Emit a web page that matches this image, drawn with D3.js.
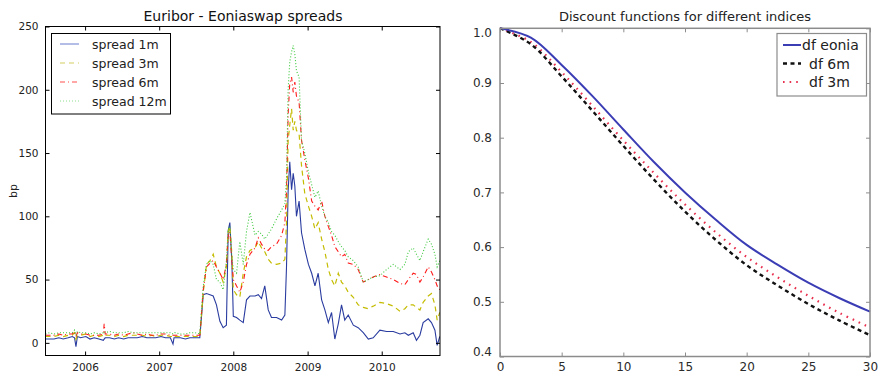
<!DOCTYPE html>
<html><head><meta charset="utf-8">
<script src="https://cdn.jsdelivr.net/npm/d3@7"></script>
<style>
html,body{margin:0;padding:0;background:#fff;}
svg{display:block;font-family:"DejaVu Sans",sans-serif;}
</style></head>
<body>
<svg id="chart" width="878" height="374"></svg>
<script>
// ---------- Left panel data: Euribor - Eoniaswap spreads (bp) ----------
const spreadDates = [
 "2005-06-20","2005-07-10","2005-08-01","2005-08-25","2005-09-15","2005-10-10","2005-10-30","2005-11-10","2005-11-17","2005-11-24",
 "2005-12-10","2006-01-05","2006-01-25","2006-02-15","2006-03-10","2006-04-01","2006-04-05","2006-04-10","2006-05-01","2006-05-25",
 "2006-06-15","2006-07-10","2006-08-01","2006-08-25","2006-09-15","2006-10-10","2006-11-01","2006-11-25","2006-12-15","2007-01-10",
 "2007-02-01","2007-02-25","2007-03-10","2007-03-15","2007-03-20","2007-04-15","2007-05-10","2007-06-01","2007-06-25",
 "2007-07-20","2007-08-06","2007-08-22","2007-09-08","2007-09-24","2007-10-10","2007-10-27","2007-11-12","2007-11-28","2007-12-07",
 "2007-12-15","2007-12-25","2008-01-01","2008-01-17","2008-02-02","2008-02-19","2008-03-06","2008-03-23","2008-04-17","2008-05-03",
 "2008-05-19","2008-06-04","2008-06-21","2008-07-07","2008-08-01","2008-08-26","2008-09-11","2008-09-19","2008-09-27","2008-10-05",
 "2008-10-14","2008-10-22","2008-10-30","2008-11-07","2008-11-20","2008-12-02","2008-12-18","2009-01-05","2009-01-21","2009-02-06",
 "2009-02-22","2009-03-11","2009-03-27","2009-04-13","2009-04-29","2009-05-15","2009-06-01","2009-06-17","2009-07-03","2009-07-20",
 "2009-08-14","2009-09-07","2009-10-02","2009-10-27","2009-11-20","2009-12-23","2010-01-25","2010-02-27","2010-04-01","2010-04-25",
 "2010-05-12","2010-06-05","2010-06-21","2010-07-08","2010-07-24","2010-08-18","2010-09-03","2010-09-20","2010-10-01","2010-10-14"
];
const spread1m = [
 3,3,3,4,3,4,5,4,-3,5, 4,5,3,4,3,2,3,4,4,3, 4,3,4,4,4,5,4,4,4,5, 4,4,-1,4,4,4,3,4,4,
 4,38,39,38,37,30,17,12,14,89, 95,63,21,20,18,16,34,37,37,38, 35,45,26,20,20,18,22,60,120,143,
 121,134,124,100,112,87,74,62,55,45, 55,34,26,16,24,3,15,30,18,22, 14,12,8,3,4,10,9,9,7,8,
 6,8,2,6,16,19,16,10,-2,5
];
const spread3m = [
 5,5,5,6,5,6,6,8,3,6, 6,7,5,6,5,6,7,6,6,5, 6,5,6,6,6,6,5,6,5,6, 6,5,5,6,5,5,5,5,5,
 5,40,62,65,70,60,55,48,60,88, 92,70,42,38,36,55,68,73,75,80, 75,72,66,63,62,63,66,95,160,172,
 185,168,175,168,165,140,118,108,100,90, 95,82,72,58,50,45,55,48,45,40, 36,30,28,27,29,32,31,29,25,27,
 30,30,28,26,32,37,39,30,18,24
];
const spread6m = [
 6,6,6,7,6,7,7,9,5,8, 7,7,6,6,6,7,15,7,7,6, 7,6,7,8,7,6,7,6,6,7, 7,6,6,6,6,6,6,6,6,
 6,42,60,63,65,60,55,50,62,85, 88,65,50,45,40,48,62,70,75,83, 78,74,73,76,78,85,95,120,180,205,
 210,198,206,195,190,160,145,130,112,108, 105,112,100,92,85,76,72,68,70,63, 62,58,48,50,52,54,52,50,47,46,
 50,55,54,48,52,60,56,50,45,42
];
const spread12m = [
 7,8,7,8,8,8,8,10,6,9, 8,8,7,8,7,8,9,8,9,8, 8,8,9,8,8,8,8,8,8,8, 8,8,7,7,8,7,7,8,8,
 7,45,62,65,62,50,48,42,65,90, 92,68,58,55,80,62,88,103,85,88, 86,82,86,90,98,105,110,130,200,222,
 230,235,228,215,210,160,150,135,125,115, 120,108,100,95,88,85,80,76,73,68, 65,60,48,50,52,53,58,62,58,62,
 72,75,70,65,72,82,78,70,60,65
];
const spreadNames = ["spread 1m","spread 3m","spread 6m","spread 12m"];
const spreadYTicks = [0,50,100,150,200,250];
const spreadXTicks = ["2006-01-01","2007-01-01","2008-01-01","2009-01-01","2010-01-01"];

// ---------- Right panel data: discount functions ----------
const maturities = [0,2.5,5,7.5,10,12.5,15,17.5,20,22.5,25,27.5,30];
const dfEonia = [1.0,0.983,0.933,0.876,0.815,0.755,0.700,0.650,0.604,0.568,0.535,0.507,0.482];
const df6m    = [1.0,0.971,0.912,0.849,0.785,0.723,0.665,0.613,0.567,0.530,0.496,0.466,0.439];
const df3m    = [1.0,0.975,0.920,0.858,0.795,0.735,0.678,0.627,0.582,0.545,0.511,0.480,0.453];
const dfNames = ["df eonia","df 6m","df 3m"];
const dfYTicks = [0.4,0.5,0.6,0.7,0.8,0.9,1.0];
const dfXTicks = [0,5,10,15,20,25,30];

const svg = d3.select("#chart");
const parse = d3.utcParse("%Y-%m-%d");

// ================= LEFT PANEL =================
{
  const L = {x0:45.5, x1:440, y0:26.5, y1:355.5};
  const x = d3.scaleUtc().domain([parse("2005-06-20"), parse("2010-10-15")]).range([L.x0, L.x1]);
  const y = d3.scaleLinear().domain([-10,250]).range([L.y1, L.y0]);
  const g = svg.append("g");
  g.append("clipPath").attr("id","clipL").append("rect")
    .attr("x",L.x0).attr("y",L.y0).attr("width",L.x1-L.x0).attr("height",L.y1-L.y0);

  const dates = spreadDates.map(parse);
  const series = [spread1m, spread3m, spread6m, spread12m];
  const styles = [
    {color:"#2a3c9f", dash:null, w:1.1},
    {color:"#c4bc00", dash:"5,4", w:1.2},
    {color:"#ff1a1a", dash:"5,3,1,3", w:1.1},
    {color:"#3ac83a", dash:"1,2", w:1.1}
  ];
  const line = d3.line().x((d,i)=>x(dates[i])).y(d=>y(d));
  const lg = g.append("g").attr("clip-path","url(#clipL)");
  series.forEach((s,k)=>{
    lg.append("path").datum(s).attr("d",line).attr("fill","none")
      .attr("stroke",styles[k].color).attr("stroke-width",styles[k].w)
      .attr("stroke-dasharray",styles[k].dash);
  });

  // frame
  g.append("rect").attr("x",L.x0).attr("y",L.y0).attr("width",L.x1-L.x0).attr("height",L.y1-L.y0)
    .attr("fill","none").attr("stroke","#000").attr("stroke-width",1);

  // axes (ticks inside)
  const xb = d3.axisBottom(x).tickValues(spreadXTicks.map(parse)).tickFormat(d3.utcFormat("%Y")).tickSizeInner(-4).tickSizeOuter(0).tickPadding(8);
  const xt = d3.axisTop(x).tickValues(spreadXTicks.map(parse)).tickFormat("").tickSizeInner(-4).tickSizeOuter(0);
  const yl = d3.axisLeft(y).tickValues(spreadYTicks).tickSizeInner(-4).tickSizeOuter(0).tickPadding(7);
  const yr = d3.axisRight(y).tickValues(spreadYTicks).tickFormat("").tickSizeInner(-4).tickSizeOuter(0);
  const styleAx = (a)=>{ a.select(".domain").remove(); a.selectAll("line").attr("stroke","#000");
    a.selectAll("text").attr("fill","#222").style("font-size","10.5px").style("font-family","DejaVu Sans"); };
  g.append("g").attr("transform",`translate(0,${L.y1})`).call(xb).call(styleAx);
  g.append("g").attr("transform",`translate(0,${L.y0})`).call(xt).call(styleAx);
  g.append("g").attr("transform",`translate(${L.x0},0)`).call(yl).call(styleAx);
  g.append("g").attr("transform",`translate(${L.x1},0)`).call(yr).call(styleAx);

  g.append("text").attr("x",243).attr("y",21).attr("text-anchor","middle")
    .style("font-size","14px").attr("fill","#111").text("Euribor - Eoniaswap spreads");
  g.append("text").attr("transform","translate(17,191) rotate(-90)").attr("text-anchor","middle")
    .style("font-size","11px").attr("fill","#222").text("bp");

  // legend
  const lgd = g.append("g");
  lgd.append("rect").attr("x",51.5).attr("y",33.5).attr("width",119).attr("height",80.5)
    .attr("fill","#fff").attr("stroke","#000").attr("stroke-width",1);
  const legY = [44,63,82,101];
  const legCols = ["#8090d4","#d4d060","#ff5050","#90e090"];
  spreadNames.forEach((n,k)=>{
    lgd.append("line").attr("x1",60).attr("x2",79).attr("y1",legY[k]).attr("y2",legY[k])
      .attr("stroke",legCols[k]).attr("stroke-width",1.2).attr("stroke-dasharray",styles[k].dash);
    lgd.append("text").attr("x",92).attr("y",legY[k]+4.5).style("font-size","12.5px").attr("fill","#222").text(n);
  });
}

// ================= RIGHT PANEL =================
{
  const R = {x0:500, x1:870, y0:28.3, y1:356.5};
  const x = d3.scaleLinear().domain([0,30]).range([R.x0,R.x1]);
  const y = d3.scaleLinear().domain([0.4,1.0]).range([R.y1,R.y0]);
  const g = svg.append("g");
  g.append("clipPath").attr("id","clipR").append("rect")
    .attr("x",R.x0).attr("y",R.y0-2).attr("width",R.x1-R.x0+2).attr("height",R.y1-R.y0+2);

  const line = d3.line().x((d,i)=>x(maturities[i])).y(d=>y(d)).curve(d3.curveCatmullRom.alpha(0.5));
  const series = [dfEonia, df6m, df3m];
  const styles = [
    {color:"#3b3db5", dash:null, w:2, cap:"butt"},
    {color:"#111111", dash:"4,3.5", w:2.4, cap:"butt"},
    {color:"#e8304f", dash:"1.6,5", w:2.2, cap:"butt"}
  ];
  const lg = g.append("g").attr("clip-path","url(#clipR)");
  [2,1,0].forEach(k=>{
    lg.append("path").datum(series[k]).attr("d",line).attr("fill","none")
      .attr("stroke",styles[k].color).attr("stroke-width",styles[k].w)
      .attr("stroke-dasharray",styles[k].dash).attr("stroke-linecap",styles[k].cap);
  });

  const fc = "#8c8c8c";
  g.append("rect").attr("x",R.x0).attr("y",R.y0).attr("width",R.x1-R.x0).attr("height",R.y1-R.y0)
    .attr("fill","none").attr("stroke",fc).attr("stroke-width",1.5);

  const xb = d3.axisBottom(x).tickValues(dfXTicks).tickFormat(d3.format("d")).tickSizeInner(-4).tickSizeOuter(0).tickPadding(6);
  const xt = d3.axisTop(x).tickValues(dfXTicks).tickFormat("").tickSizeInner(-4).tickSizeOuter(0);
  const yl = d3.axisLeft(y).tickValues(dfYTicks).tickFormat(d3.format(".1f")).tickSizeInner(-4).tickSizeOuter(0).tickPadding(8);
  const yr = d3.axisRight(y).tickValues(dfYTicks).tickFormat("").tickSizeInner(-4).tickSizeOuter(0);
  const styleAx = (a)=>{ a.select(".domain").remove(); a.selectAll("line").attr("stroke",fc);
    a.selectAll("text").attr("fill","#2a2a2a").style("font-size","12px").style("font-family","DejaVu Sans"); };
  g.append("g").attr("transform",`translate(0,${R.y1})`).call(xb).call(styleAx);
  g.append("g").attr("transform",`translate(0,${R.y0})`).call(xt).call(styleAx);
  const yAx = g.append("g").attr("transform",`translate(${R.x0},0)`).call(yl).call(styleAx);
  yAx.selectAll(".tick").filter(d=>d===1.0).select("text").attr("dy","0.7em");
  yAx.selectAll(".tick").filter(d=>Math.abs(d-0.4)<1e-9).select("text").attr("dy","-0.05em");
  g.append("g").attr("transform",`translate(${R.x1},0)`).call(yr).call(styleAx);

  g.append("text").attr("x",685).attr("y",21).attr("text-anchor","middle")
    .style("font-size","13px").attr("fill","#222").text("Discount functions for different indices");

  // legend
  const lgd = g.append("g");
  lgd.append("rect").attr("x",777).attr("y",33.5).attr("width",89.5).attr("height",62.5)
    .attr("fill","#fff").attr("stroke",fc).attr("stroke-width",1.2);
  const legY = [45,63.5,82];
  const textX = [802,809,809];
  dfNames.forEach((n,k)=>{
    lgd.append("line").attr("x1",783).attr("x2",801).attr("y1",legY[k]).attr("y2",legY[k])
      .attr("stroke",styles[k].color).attr("stroke-width",styles[k].w).attr("stroke-dasharray",styles[k].dash);
    lgd.append("text").attr("x",textX[k]).attr("y",legY[k]+5).style("font-size","14px").attr("fill","#222").text(n);
  });
}
</script>
</body></html>
